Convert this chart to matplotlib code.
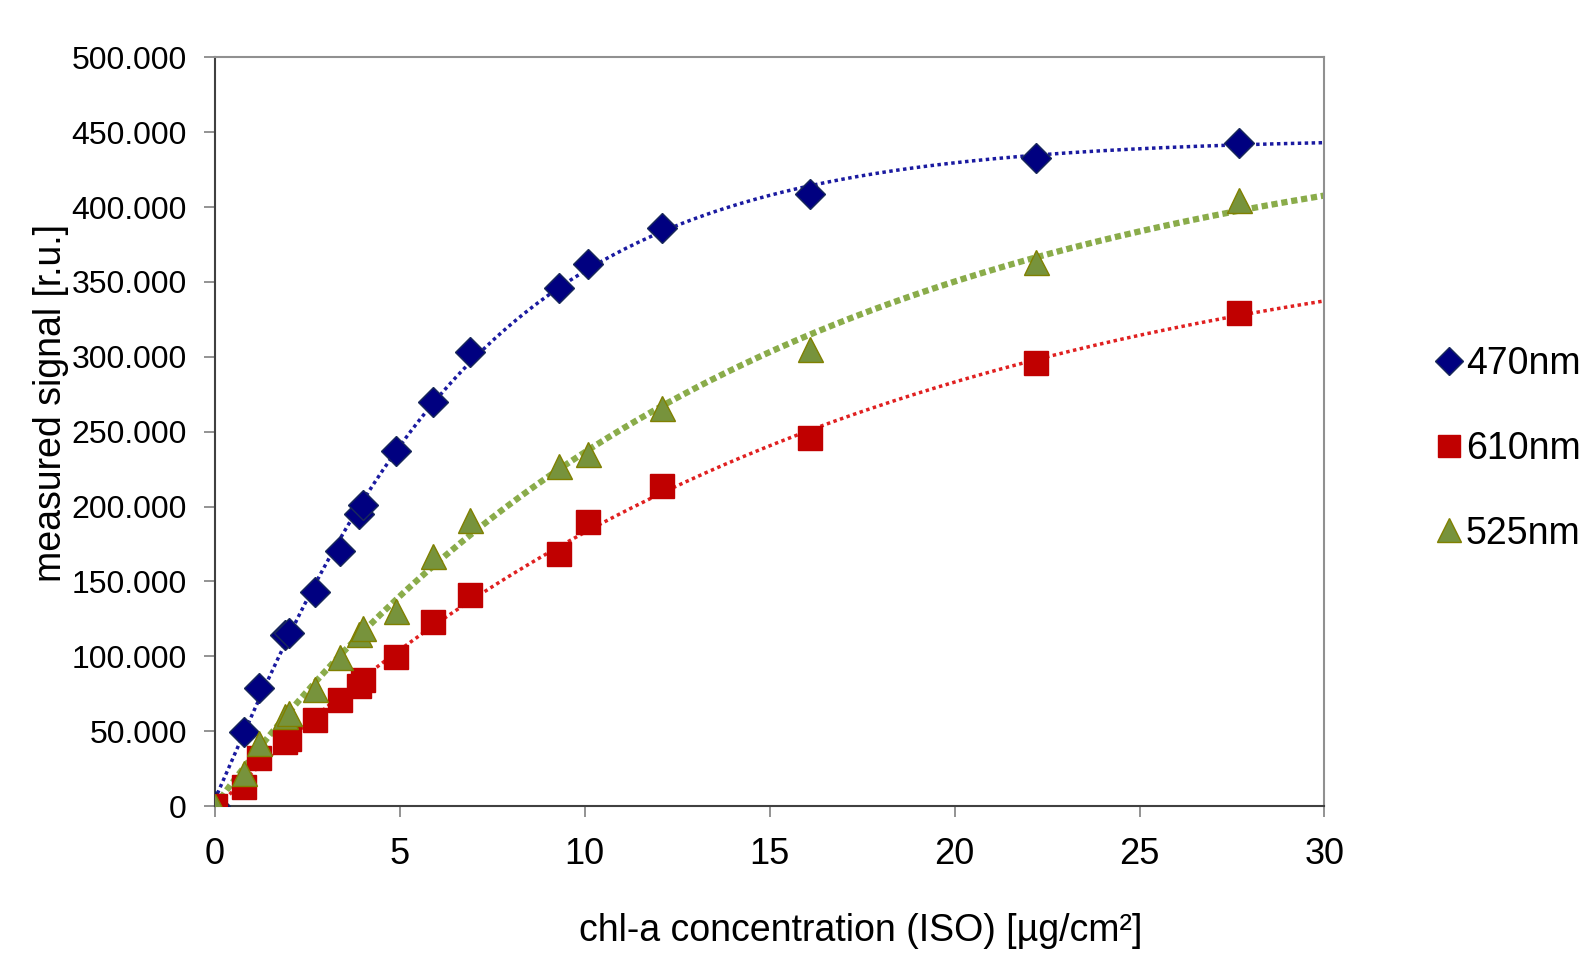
import numpy as np
import matplotlib.pyplot as plt
from matplotlib.ticker import FuncFormatter

plt.rcParams['font.family'] = ['Liberation Sans', 'DejaVu Sans']

# chl-a concentration (ISO) [ug/cm2]
conc = [0, 0.8, 1.2, 1.9, 2.0, 2.7, 3.4, 3.9, 4.0, 4.9, 5.9, 6.9,
        9.3, 10.1, 12.1, 16.1, 22.2, 27.7]
sig_470 = [0, 49400, 79000, 114000, 115500, 143000, 170000, 195000, 201000,
           237000, 270000, 303000, 346000, 362000, 386000, 409000, 433000, 443000]
sig_610 = [0, 13000, 32000, 43000, 45000, 57500, 71000, 80000, 84000,
           99500, 123000, 141000, 168000, 190000, 214000, 246000, 296000, 329500]
sig_525 = [0, 22000, 42000, 60000, 62000, 78000, 99500, 115000, 119000,
           130000, 167000, 191000, 227000, 235000, 266000, 305000, 363000, 405000]

labels = ['470nm', '610nm', '525nm']


def trend(x, y, deg, k):
    # saturating trendline: polynomial in u = 1 - exp(-x/k)
    u = 1 - np.exp(-np.asarray(x) / k)
    p = np.polyfit(u, y, deg)
    xs = np.linspace(0, 30, 300)
    return xs, np.polyval(p, 1 - np.exp(-xs / k))


fig = plt.figure(figsize=(15.9, 9.55), dpi=100)
ax = fig.add_axes([0.135, 0.156, 0.698, 0.784])

# trendlines
xs, ys = trend(conc, sig_525, 2, 16)
ax.plot(xs, ys, color='#8aac4a', lw=4.5, ls=(0, (1, 0.6)), zorder=2)
xs, ys = trend(conc, sig_610, 2, 16)
ax.plot(xs, ys, color='#e02020', lw=2.5, ls=(0, (1, 1)), zorder=2)
xs, ys = trend(conc, sig_470, 3, 6)
ax.plot(xs, ys, color='#1a1aa0', lw=2.5, ls=(0, (1, 1)), zorder=2)

# data points
h1, = ax.plot(conc, sig_470, 'D', color='#000080', mec='#1a2a5a', ms=15, ls='none', zorder=3)
h2, = ax.plot(conc, sig_610, 's', color='#c00000', mec='#c00000', ms=17, ls='none', zorder=3)
h3, = ax.plot(conc, sig_525, '^', color='#77933c', mec='#808000', ms=18, ls='none', zorder=3)

ax.set_xlim(0, 30)
ax.set_ylim(0, 500000)
ax.set_xticks(range(0, 31, 5))
ax.set_yticks(range(0, 500001, 50000))
ax.yaxis.set_major_formatter(FuncFormatter(lambda v, p: f"{v:,.0f}".replace(',', '.')))
ax.tick_params(length=8, width=1.2, color='#808080', direction='out')
ax.tick_params(axis='x', pad=14, labelsize=26)
ax.tick_params(axis='y', pad=12, labelsize=23)

for s in ['top', 'right']:
    ax.spines[s].set_color('#909090')
    ax.spines[s].set_linewidth(1.5)
for s in ['left', 'bottom']:
    ax.spines[s].set_color('#404040')
    ax.spines[s].set_linewidth(1.5)

fig.text(0.5415, 0.025, 'chl-a concentration (ISO) [µg/cm²]', fontsize=27,
         ha='center', va='center')
fig.text(0.032, 0.578, 'measured signal [r.u.]', fontsize=27,
         ha='center', va='center', rotation=90)

fig.legend([h1, h2, h3], labels, loc='center left', bbox_to_anchor=(0.883, 0.53),
           frameon=False, fontsize=27, markerscale=0.95, handlelength=0.6,
           handletextpad=0.15, labelspacing=1.3)

fig.savefig('out.png', dpi=100)
